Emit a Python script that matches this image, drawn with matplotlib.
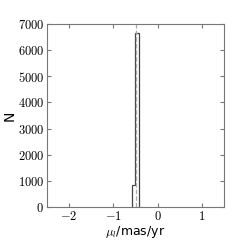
import numpy as np
import matplotlib
matplotlib.use('Agg')
import matplotlib.pyplot as plt

plt.rcParams['mathtext.fontset'] = 'cm'
plt.rcParams['font.family'] = 'DejaVu Sans'

# Histogram of proper motion in l
bin_edges = [-0.59, -0.51, -0.43]
counts = [850, 6650]
median_mu = -0.49

fig = plt.figure(figsize=(2.49, 2.49), dpi=100)
ax = fig.add_axes([47/249, 1 - 207/249, 177/249, 183/249])

ax.hist(bin_edges[:-1], bins=bin_edges, weights=counts, histtype='step',
        color='#444444', lw=0.9)
ax.axvline(median_mu, color='#aaaaaa', ls='--', lw=0.9)

ax.set_xlim(-2.5, 1.5)
ax.set_ylim(0, 7000)
ax.set_xticks([-2, -1, 0, 1])
ax.set_xticklabels([r'$-2$', r'$-1$', r'$0$', r'$1$'])
yt = np.arange(0, 7001, 1000)
ax.set_yticks(yt)
ax.set_yticklabels([r'$%d$' % v for v in yt])
ax.tick_params(direction='in', top=True, right=True, labelsize=9,
               length=3, color='#777777', pad=2)
for s in ax.spines.values():
    s.set_color('#777777')

ax.set_xlabel(r'$\mu_l$/mas/yr', fontsize=9, labelpad=1)
ax.set_ylabel('N', fontsize=10, labelpad=1)

plt.savefig('out.png', dpi=100)
